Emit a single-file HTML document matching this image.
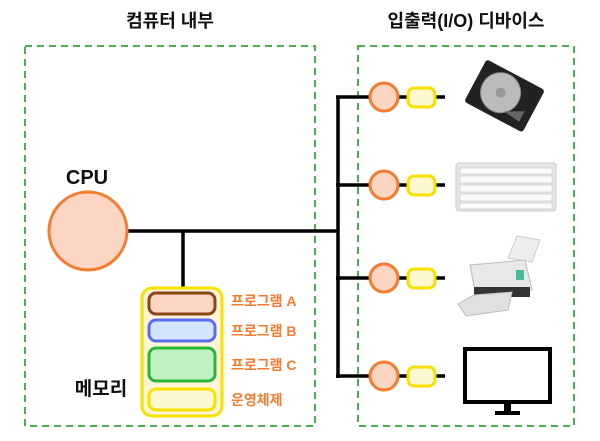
<!DOCTYPE html>
<html><head><meta charset="utf-8"><style>
html,body{margin:0;padding:0;background:#fff;}
svg{display:block;font-family:"Liberation Sans","Noto Sans CJK KR",sans-serif;}
</style></head><body>
<svg width="600" height="441" viewBox="0 0 600 441" xmlns="http://www.w3.org/2000/svg">
<text x="170" y="27" font-size="18" font-weight="bold" text-anchor="middle" fill="#111">컴퓨터 내부</text>
<text x="466" y="27" font-size="18" font-weight="bold" text-anchor="middle" fill="#111">입출력(I/O) 디바이스</text>
<rect x="25" y="46" width="290" height="380" fill="none" stroke="#4caf50" stroke-width="2" stroke-dasharray="7,5"/>
<rect x="358" y="46" width="216" height="380" fill="none" stroke="#4caf50" stroke-width="2" stroke-dasharray="7,5"/>
<g stroke="#000" stroke-width="3.5" fill="none">
<line x1="128" y1="231" x2="339" y2="231"/>
<line x1="183" y1="231" x2="183" y2="290"/>
<line x1="338" y1="96" x2="338" y2="378"/>
<line x1="336" y1="97" x2="445" y2="97"/>
<line x1="336" y1="185" x2="445" y2="185"/>
<line x1="336" y1="278" x2="445" y2="278"/>
<line x1="336" y1="376" x2="445" y2="376"/>
</g>
<circle cx="88" cy="231" r="39" fill="#fcd5c3" stroke="#f47b2f" stroke-width="3"/>
<text x="87" y="184" font-size="20" font-weight="bold" text-anchor="middle" fill="#111">CPU</text>
<g fill="#fcd5c3" stroke="#f47b2f" stroke-width="3">
<circle cx="384" cy="97" r="14"/><circle cx="384" cy="185" r="14"/><circle cx="384" cy="278" r="14"/><circle cx="384" cy="376" r="14"/>
</g>
<g fill="#fdf8d0" stroke="#f8e000" stroke-width="3">
<rect x="408" y="88" width="27" height="19" rx="6"/><rect x="408" y="176" width="27" height="19" rx="6"/>
<rect x="408" y="269" width="27" height="19" rx="6"/><rect x="408" y="367" width="27" height="19" rx="6"/>
</g>
<rect x="142" y="288" width="80" height="128" rx="10" fill="#fdf5d8" stroke="#f8e000" stroke-width="3"/>
<rect x="149" y="293" width="66" height="21" rx="7" fill="#fcd5c3" stroke="#8b4513" stroke-width="3"/>
<rect x="149" y="320" width="66" height="21" rx="7" fill="#d3e5fc" stroke="#5a6cf0" stroke-width="3"/>
<rect x="149" y="348" width="66" height="33" rx="7" fill="#bff2c3" stroke="#2ab534" stroke-width="3"/>
<rect x="149" y="389" width="66" height="21" rx="7" fill="#fdf8d0" stroke="#f8e000" stroke-width="3"/>
<g font-size="14" font-weight="bold" fill="#f47b2f">
<text x="231" y="306">프로그램 A</text>
<text x="231" y="336">프로그램 B</text>
<text x="231" y="370">프로그램 C</text>
<text x="231" y="405">운영체제</text>
</g>
<text x="101" y="395" font-size="19" font-weight="bold" text-anchor="middle" fill="#111">메모리</text>
<g transform="rotate(28 505 95)">
<rect x="472" y="72" width="66" height="48" rx="3" fill="#222"/>
<circle cx="500" cy="95" r="20" fill="#bbb" stroke="#888"/>
<circle cx="500" cy="95" r="5" fill="#999"/>
<path d="M512 110 L530 100 L530 112 Z" fill="#666"/>
</g>
<rect x="456" y="163" width="100" height="48" rx="3" fill="#e6e6e6" stroke="#ccc"/>
<g fill="#fafafa" stroke="#bbb" stroke-width="0.5">
<rect x="460" y="168" width="92" height="6"/><rect x="460" y="176" width="92" height="7"/>
<rect x="460" y="185" width="92" height="7"/><rect x="460" y="194" width="92" height="7"/><rect x="460" y="203" width="92" height="6"/>
</g>
<path d="M517 236 L540 240 L532 262 L508 258 Z" fill="#eee" stroke="#ccc"/>
<path d="M470 265 L525 260 L532 290 L476 296 Z" fill="#e8e8e8" stroke="#bbb"/>
<rect x="474" y="287" width="56" height="10" fill="#333"/>
<path d="M458 304 L474 295 L512 292 L508 310 L466 316 Z" fill="#e0e0e0" stroke="#bbb"/>
<rect x="516" y="270" width="8" height="10" fill="#4b9"/>
<rect x="465" y="349" width="85" height="53" fill="#fff" stroke="#000" stroke-width="4"/>
<rect x="504" y="402" width="7" height="10" fill="#000"/>
<rect x="495" y="411" width="25" height="4" fill="#000"/>
</svg>
</body></html>
